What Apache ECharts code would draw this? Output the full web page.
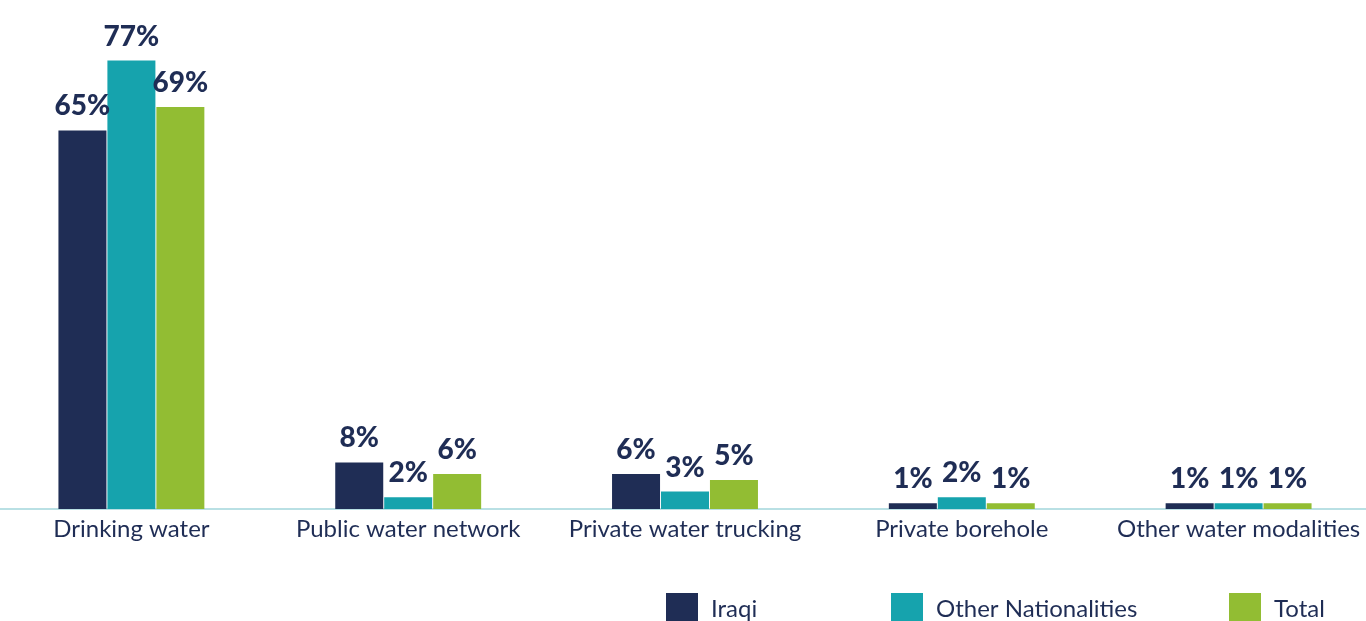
<!DOCTYPE html>
<html>
<head>
<meta charset="utf-8">
<script src="https://cdn.jsdelivr.net/npm/echarts@6/dist/echarts.min.js"></script>
<style>
  html, body { margin: 0; padding: 0; background: #fff; }
  #chart { width: 1366px; height: 621px; }
</style>
</head>
<body>
<div id="chart"></div>
<script>
const categories = ["Drinking water", "Public water network", "Private water trucking", "Private borehole", "Other water modalities"]
const iraqi = [65, 8, 6, 1, 1]
const otherNationalities = [77, 2, 3, 2, 1]
const total = [69, 6, 5, 1, 1]

const navy = "#1f2d55"
const font = "Lato, 'Open Sans', sans-serif"

const myChart = echarts.init(document.getElementById("chart"))

const labelStyle = {
  show: true,
  position: "top",
  distance: 10,
  formatter: (p) => p.value + "%",
  fontFamily: font,
  fontSize: 28,
  fontWeight: 900,
  color: navy
}

const legendBase = {
  top: 588,
  icon: "rect",
  itemWidth: 32,
  itemHeight: 32,
  itemGap: 0,
  textStyle: { fontFamily: font, fontSize: 24, color: navy, padding: [0, 0, 0, 8] }
}

myChart.setOption({
  animation: false,
  legend: [
    { ...legendBase, left: 661, data: ["Iraqi"] },
    { ...legendBase, left: 886, data: ["Other Nationalities"] },
    { ...legendBase, left: 1224, data: ["Total"] }
  ],
  grid: { left: -7, right: -11, top: 43, bottom: 112, outerBoundsMode: "none" },
  xAxis: {
    type: "category",
    data: categories,
    axisLine: { lineStyle: { color: "#b9e0e4", width: 2 } },
    axisTick: { show: false },
    axisLabel: { fontFamily: font, fontSize: 24, color: navy, margin: 8, interval: 0 }
  },
  yAxis: {
    type: "value",
    min: 0,
    max: 80,
    show: false,
    splitLine: { show: false }
  },
  series: [
    { name: "Iraqi", type: "bar", data: iraqi, barWidth: 48, barGap: "2%", itemStyle: { color: navy }, label: labelStyle },
    { name: "Other Nationalities", type: "bar", data: otherNationalities, barWidth: 48, barGap: "2%", itemStyle: { color: "#16a3ad" }, label: labelStyle },
    { name: "Total", type: "bar", data: total, barWidth: 48, barGap: "2%", itemStyle: { color: "#92bd33" }, label: labelStyle }
  ]
})

window.addEventListener("resize", () => {
  myChart.resize()
})
</script>
</body>
</html>
